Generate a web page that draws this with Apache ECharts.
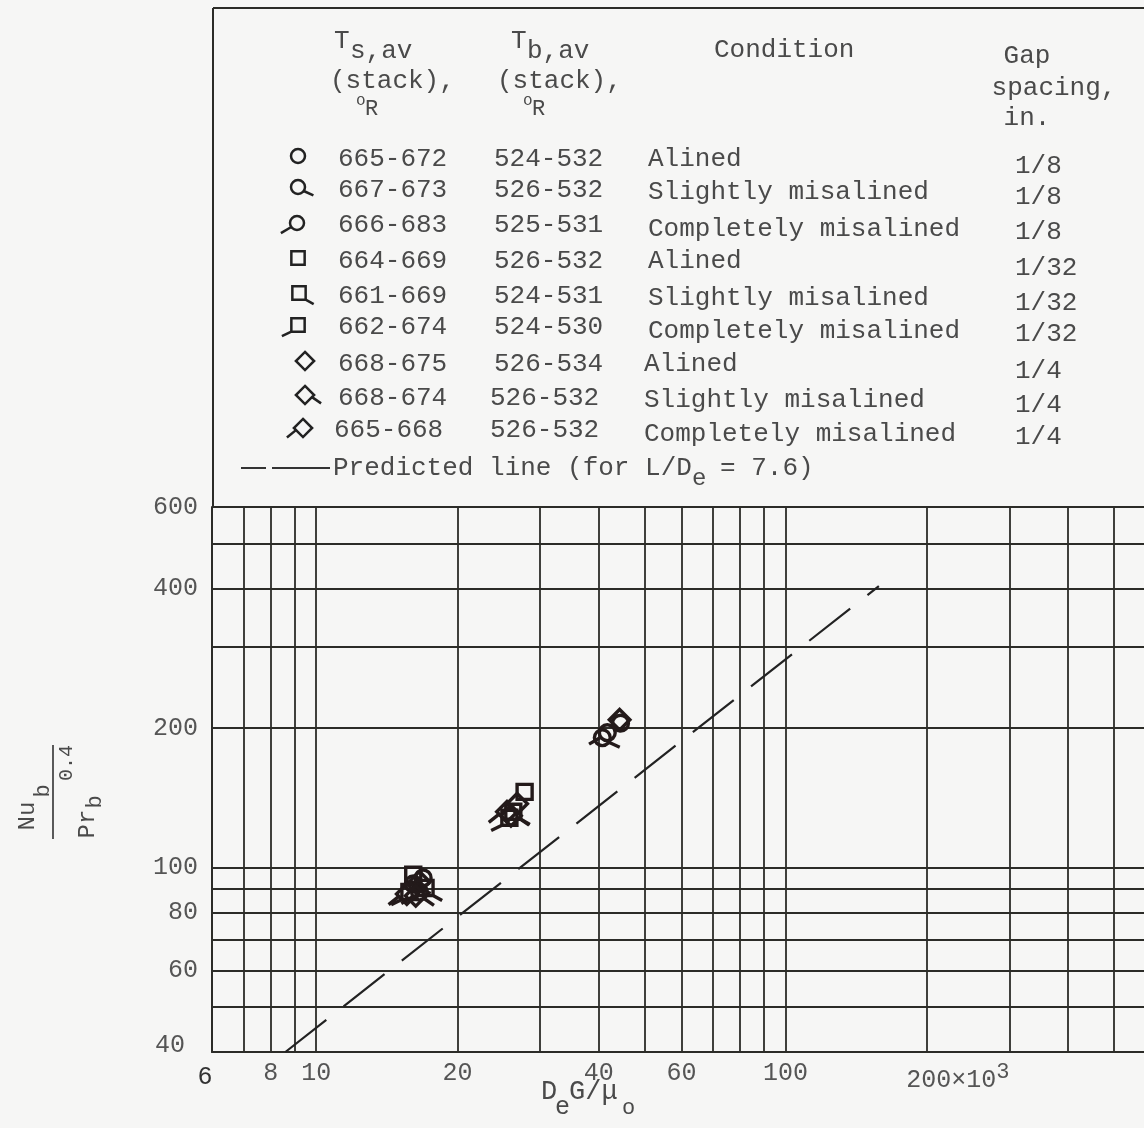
<!DOCTYPE html>
<html>
<head>
<meta charset="utf-8">
<script src="https://cdn.jsdelivr.net/npm/echarts@6/dist/echarts.min.js"></script>
<style>
  html, body { margin: 0; padding: 0; background: #f6f6f5; }
  #chart { width: 1144px; height: 1128px; }
</style>
</head>
<body>
<div id="chart"></div>
<script>
// Axis ticks, grid lines and labels (Reynolds number in thousands, Nusselt group)
const xTickLabels = [6, 8, 10, 20, 40, 60, 100, 200];
const yTickLabels = [40, 60, 80, 100, 200, 400, 600];
const xGridValues = [6, 7, 8, 9, 10, 20, 30, 40, 50, 60, 70, 80, 90, 100, 200, 300, 400, 500];
const yGridValues = [40, 50, 60, 70, 80, 90, 100, 200, 300, 400, 500, 600];

// Measured points, one array per run condition: [DeG/mu (x10^3), Nu/Pr^0.4]
const circleAlined = [[16.9, 95.0], [44.5, 205]];
const circleSlightly = [[16.1, 92.2], [40.7, 190.7]];
const circleCompletely = [[16.6, 88.6], [41.7, 195.5]];
const squareAlined = [[16.1, 96.5], [27.8, 145.7]];
const squareSlightly = [[17.1, 90.4], [26.3, 132.0]];
const squareCompletely = [[15.8, 88.6], [25.8, 128.1]];
const diamondAlined = [[16.6, 93.2], [26.8, 137.3], [44.3, 208.5]];
const diamondSlightly = [[16.3, 86.9], [26.0, 129.4]];
const diamondCompletely = [[15.6, 87.7], [25.5, 132.0]];

// Predicted line for L/De = 7.6
const predictedLine = [[8.6, 40], [158, 405]];

// Legend table rows: Ts,av, Tb,av, condition, gap spacing
const legendTs = ['665-672', '667-673', '666-683', '664-669', '661-669', '662-674', '668-675', '668-674', '665-668'];
const legendTb = ['524-532', '526-532', '525-531', '526-532', '524-531', '524-530', '526-534', '526-532', '526-532'];
const legendCondition = ['Alined', 'Slightly misalined', 'Completely misalined',
                         'Alined', 'Slightly misalined', 'Completely misalined',
                         'Alined', 'Slightly misalined', 'Completely misalined'];
const legendGap = ['1/8', '1/8', '1/8', '1/32', '1/32', '1/32', '1/4', '1/4', '1/4'];

// Symbol geometry in unit coordinates (outline radius about 1, tails outside it)
const TAILS = {
  circle: { slightly: [0.82, 0.57, 2.2, 1.2], completely: [-0.82, 0.57, -2.3, 1.45] },
  square: { slightly: [0.95, 0.95, 2.1, 1.6], completely: [-0.95, 0.95, -2.3, 1.6] },
  diamond: { slightly: [1.0, 0.3, 2.3, 1.2], completely: [-1.0, 0.3, -2.3, 1.35] }
};
const OUTLINES = {
  circle: 'M1 0A1 1 0 1 1 -1 0A1 1 0 1 1 1 0Z',
  square: 'M-0.95 -0.95L0.95 -0.95L0.95 0.95L-0.95 0.95Z',
  diamond: 'M0 -1.3L1.3 0L0 1.3L-1.3 0Z'
};
// leading move-to points give every outline the same box, so it stays centred on its point
const BOX = 'M-2.4 -2.4M2.4 2.4';
function symbolPath(shape, cond) {
  let d = BOX + OUTLINES[shape];
  const t = TAILS[shape][cond];
  if (t) d += 'M' + t[0] + ' ' + t[1] + 'L' + t[2] + ' ' + t[3];
  return 'path://' + d;
}

const SERIES_ORDER = [
  ['circle', 'alined', circleAlined], ['circle', 'slightly', circleSlightly], ['circle', 'completely', circleCompletely],
  ['square', 'alined', squareAlined], ['square', 'slightly', squareSlightly], ['square', 'completely', squareCompletely],
  ['diamond', 'alined', diamondAlined], ['diamond', 'slightly', diamondSlightly], ['diamond', 'completely', diamondCompletely]
];

const FONT = '"Liberation Mono", "DejaVu Sans Mono", monospace';
const INK = '#4a4a4a';
const LINE = '#2c2c28';
const MARK = '#231a1a';
const FS = 26;

function text(x, y, s, size, extra) {
  return {
    type: 'text', x: x, y: y, silent: true,
    style: Object.assign({
      text: s, fontFamily: FONT, fontSize: size, fill: INK,
      align: 'left', verticalAlign: 'middle'
    }, extra || {})
  };
}

// Legend key symbol built from plain shapes
function keySymbol(shape, cond, cx, cy, u) {
  const st = { fill: 'none', stroke: '#222', lineWidth: 2.5 };
  const kids = [];
  if (shape === 'circle') {
    kids.push({ type: 'circle', shape: { cx: cx, cy: cy, r: u }, style: st });
  } else if (shape === 'square') {
    kids.push({ type: 'rect', shape: { x: cx - 0.95 * u, y: cy - 0.95 * u, width: 1.9 * u, height: 1.9 * u }, style: st });
  } else {
    kids.push({ type: 'polygon', shape: { points: [[cx, cy - 1.3 * u], [cx + 1.3 * u, cy], [cx, cy + 1.3 * u], [cx - 1.3 * u, cy]] }, style: st });
  }
  const t = TAILS[shape][cond];
  if (t) {
    kids.push({ type: 'line', shape: { x1: cx + t[0] * u, y1: cy + t[1] * u, x2: cx + t[2] * u, y2: cy + t[3] * u }, style: st });
  }
  return { type: 'group', silent: true, children: kids };
}

// Legend table drawn above the plot
const legendEls = [];
// frame: top and left edges (the plot's 600 grid line closes it)
legendEls.push({ type: 'line', silent: true, shape: { x1: 213, y1: 8, x2: 1144, y2: 8 }, style: { stroke: LINE, lineWidth: 2 } });
legendEls.push({ type: 'line', silent: true, shape: { x1: 213, y1: 8, x2: 213, y2: 507 }, style: { stroke: LINE, lineWidth: 2 } });
// column headings
legendEls.push(text(334, 41, 'T', FS));
legendEls.push(text(350, 51, 's,av', FS));
legendEls.push(text(330, 81, '(stack),', FS));
legendEls.push(text(356, 101, 'o', 16));
legendEls.push(text(365, 109, 'R', 22));
legendEls.push(text(511, 41, 'T', FS));
legendEls.push(text(527, 51, 'b,av', FS));
legendEls.push(text(497, 81, '(stack),', FS));
legendEls.push(text(523, 101, 'o', 16));
legendEls.push(text(532, 109, 'R', 22));
legendEls.push(text(714, 50, 'Condition', FS));
legendEls.push(text(1027, 56, 'Gap', FS, { align: 'center' }));
legendEls.push(text(1054, 88, 'spacing,', FS, { align: 'center' }));
legendEls.push(text(1027, 118, 'in.', FS, { align: 'center' }));
// rows
const rowY = [159, 190, 225, 261, 296, 327, 364, 398, 430];
const symX = [298, 298, 297, 298, 299, 298, 305, 305, 303];
for (let i = 0; i < legendTs.length; i++) {
  const y = rowY[i];
  legendEls.push(keySymbol(SERIES_ORDER[i][0], SERIES_ORDER[i][1], symX[i], y - 3 + (i % 3 === 2 ? 1 : 0), 7));
  const shift = i >= 6 ? -4 : 0;
  legendEls.push(text(338 + (i === 8 ? -4 : 0), y, legendTs[i], FS));
  legendEls.push(text(494 + (i >= 7 ? -4 : 0), y, legendTb[i], FS));
  legendEls.push(text(648 + shift, y + (i % 3) * 2, legendCondition[i], FS));
  legendEls.push(text(1015, y + 7, legendGap[i], FS));
}
// predicted-line key
legendEls.push({ type: 'line', silent: true, shape: { x1: 241, y1: 468, x2: 266, y2: 468 }, style: { stroke: '#333', lineWidth: 2 } });
legendEls.push({ type: 'line', silent: true, shape: { x1: 272, y1: 468, x2: 330, y2: 468 }, style: { stroke: '#333', lineWidth: 2 } });
legendEls.push(text(333, 468, 'Predicted line (for L/D', FS));
legendEls.push(text(692, 479, 'e', 24));
legendEls.push(text(720, 468, '= 7.6)', FS));

// Y-axis title: Nu_b / Pr_b^0.4, written sideways
const yTitle = {
  type: 'group', x: 53, y: 792, rotation: Math.PI / 2, silent: true,
  children: [
    { type: 'line', shape: { x1: -47, y1: 0, x2: 47, y2: 0 }, style: { stroke: '#333', lineWidth: 1.6 } },
    text(-24, -25, 'Nu', 24, { align: 'center' }),
    text(1, -10, 'b', 22, { align: 'center' }),
    text(-32, 35, 'Pr', 24, { align: 'center' }),
    text(-10, 42, 'b', 22, { align: 'center' }),
    text(29, 14, '0.4', 20, { align: 'center' })
  ]
};

// X-axis title: DeG/mu_o
const xTitle = [
  text(541, 1092, 'D', 27),
  text(555, 1107, 'e', 25),
  text(569, 1092, 'G/\u03bc', 27),
  text(622, 1108, 'o', 22)
];

const chart = echarts.init(document.getElementById('chart'), null, { renderer: 'canvas' });

const scatterSeries = SERIES_ORDER.map(function (entry) {
  return {
    type: 'scatter',
    name: entry[0] + '-' + entry[1],
    data: entry[2],
    symbol: symbolPath(entry[0], entry[1]),
    symbolSize: 38,
    symbolKeepAspect: true,
    itemStyle: { color: 'rgba(0,0,0,0)', borderColor: MARK, borderWidth: 3.4, opacity: 1 },
    emphasis: { disabled: true },
    z: 5
  };
});

chart.setOption({
  animation: false,
  backgroundColor: '#f6f6f5',
  grid: { left: 212, right: 0, top: 507, bottom: 76, containLabel: false },
  xAxis: {
    type: 'log', logBase: 10, min: 6, max: 580,
    axisLine: { show: true, onZero: false, lineStyle: { color: LINE, width: 2 } },
    axisTick: { show: false, customValues: xGridValues },
    splitLine: { show: true, lineStyle: { color: LINE, width: 1.8 } },
    minorTick: { show: false }, minorSplitLine: { show: false },
    axisLabel: {
      customValues: xTickLabels,
      margin: 9,
      fontFamily: FONT, fontSize: 25, color: '#555',
      formatter: function (v) {
        if (v === 200) return '{p|}{a|200\u00d710}{s|3}';
        if (v === 6) return '{q|6}';
        return '{a|' + v + '}';
      },
      rich: {
        a: { fontFamily: FONT, fontSize: 25, color: '#555' },
        q: { fontFamily: FONT, fontSize: 25, color: '#333', padding: [4, 14, 0, 0] },
        p: { width: 62 },
        s: { fontFamily: FONT, fontSize: 22, color: '#555', padding: [0, 0, 16, 0] }
      }
    }
  },
  yAxis: {
    type: 'log', logBase: 10, min: 40, max: 600,
    axisLine: { show: true, onZero: false, lineStyle: { color: LINE, width: 2 } },
    axisTick: { show: false, customValues: yGridValues },
    splitLine: { show: true, lineStyle: { color: LINE, width: 1.8 } },
    minorTick: { show: false }, minorSplitLine: { show: false },
    axisLabel: {
      customValues: yTickLabels,
      margin: 14,
      fontFamily: FONT, fontSize: 25, color: '#555',
      formatter: function (v) { return v === 40 ? '{l|40}' : '{a|' + v + '}'; },
      rich: {
        a: { fontFamily: FONT, fontSize: 25, color: '#555' },
        l: { fontFamily: FONT, fontSize: 25, color: '#555', padding: [0, 13, 14, 0] }
      }
    }
  },
  series: scatterSeries.concat([{
    type: 'line',
    name: 'predicted',
    data: predictedLine,
    symbol: 'none',
    silent: true,
    lineStyle: { color: '#222', width: 2.2, type: [52, 22] },
    z: 4
  }]),
  graphic: { elements: legendEls.concat([yTitle]).concat(xTitle) }
});
</script>
</body>
</html>
